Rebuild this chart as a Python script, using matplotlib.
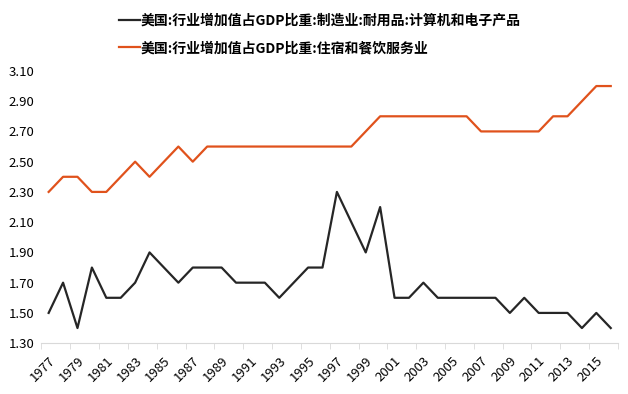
import matplotlib.pyplot as plt
import numpy as np

plt.rcParams['font.family'] = ['Noto Sans CJK SC', 'DejaVu Sans']

# 年份与两条序列（%）
years = list(range(1977, 2017))
computer = [1.5, 1.7, 1.4, 1.8, 1.6, 1.6, 1.7, 1.9, 1.8, 1.7,
            1.8, 1.8, 1.8, 1.7, 1.7, 1.7, 1.6, 1.7, 1.8, 1.8,
            2.3, 2.1, 1.9, 2.2, 1.6, 1.6, 1.7, 1.6, 1.6, 1.6,
            1.6, 1.6, 1.5, 1.6, 1.5, 1.5, 1.5, 1.4, 1.5, 1.4]
hotel = [2.3, 2.4, 2.4, 2.3, 2.3, 2.4, 2.5, 2.4, 2.5, 2.6,
         2.5, 2.6, 2.6, 2.6, 2.6, 2.6, 2.6, 2.6, 2.6, 2.6,
         2.6, 2.6, 2.7, 2.8, 2.8, 2.8, 2.8, 2.8, 2.8, 2.8,
         2.7, 2.7, 2.7, 2.7, 2.7, 2.8, 2.8, 2.9, 3.0, 3.0]
label1 = "美国:行业增加值占GDP比重:制造业:耐用品:计算机和电子产品"
label2 = "美国:行业增加值占GDP比重:住宿和餐饮服务业"

fig = plt.figure(figsize=(6.28, 3.94), dpi=100)
ax = fig.add_axes([0.066, 0.129, 0.918, 0.691])

x = np.arange(len(years))
ax.plot(x, computer, color="#262626", lw=1.6, label=label1)
ax.plot(x, hotel, color="#E0521C", lw=1.6, label=label2)

ax.set_xlim(-0.5, len(years) - 0.5)
ax.set_ylim(1.3, 3.1)
ax.set_yticks(np.arange(1.3, 3.11, 0.2))
ax.set_yticklabels([f"{v:.2f}" for v in np.arange(1.3, 3.11, 0.2)], fontsize=9.5)

ax.set_xticks(x[::2])
ax.set_xticklabels([str(y) for y in years[::2]], rotation=45, ha='right',
                   rotation_mode='anchor', fontsize=9.5)
ax.set_xticks(np.arange(-0.5, len(years), 2), minor=True)
ax.tick_params(axis='x', which='major', length=0, pad=8)
ax.tick_params(axis='x', which='minor', length=4, color="#d9d9d9")
ax.tick_params(axis='y', length=0, pad=5)

for s in ['top', 'right', 'left']:
    ax.spines[s].set_visible(False)
ax.spines['bottom'].set_color("#d9d9d9")

fig.legend(loc='upper left', bbox_to_anchor=(0.167, 1.0), frameon=False,
           prop={'size': 10, 'weight': 'bold'}, handlelength=1.5,
           handletextpad=0.1, labelspacing=0.95, borderaxespad=0.6)

fig.savefig("out.png", dpi=100)
